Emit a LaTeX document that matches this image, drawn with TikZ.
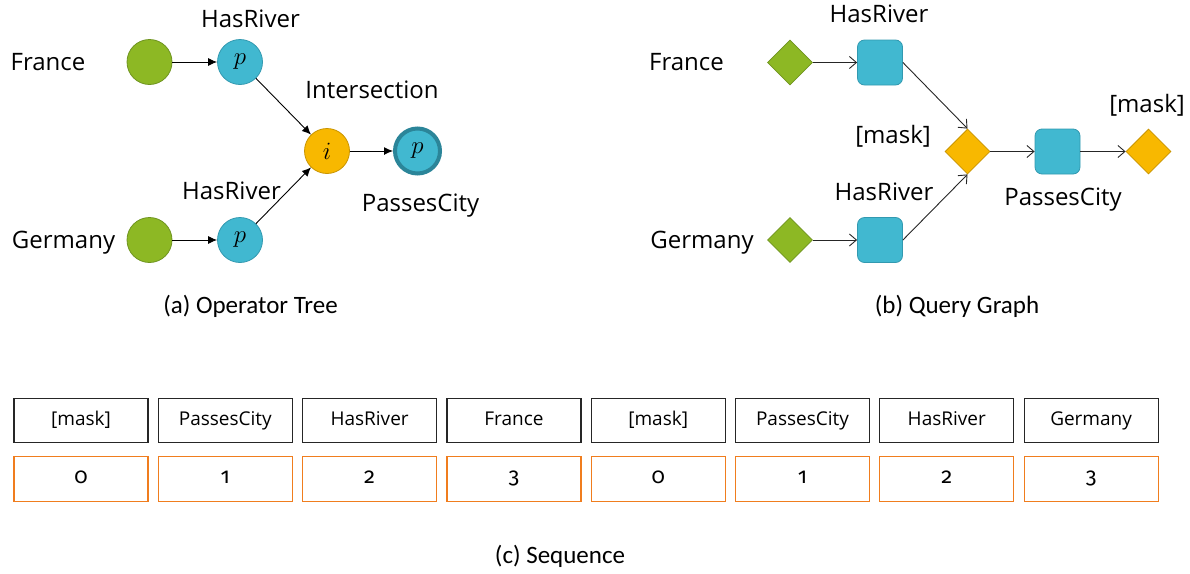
\documentclass[tikz,border=0pt]{standalone}
\usepackage{fontspec}
\setmainfont{Open Sans}
\newfontfamily\capfont{Carlito}
\newfontfamily\numfont[Numbers=OldStyle]{Fira Sans}
\usetikzlibrary{shapes.geometric,arrows.meta}

\definecolor{entgreen}{HTML}{8DB824}
\definecolor{entgreenD}{HTML}{6F9420}
\definecolor{relblue}{HTML}{41B8D0}
\definecolor{relblueD}{HTML}{3299B0}
\definecolor{opgold}{HTML}{F8B800}
\definecolor{opgoldD}{HTML}{C99400}
\definecolor{tealD}{HTML}{2B8599}
\definecolor{idxorange}{HTML}{F07D1E}

\tikzset{
  lbl/.style={font=\fontsize{24}{28}\selectfont, inner sep=0pt, anchor=base},
  caplbl/.style={font=\capfont\fontsize{25}{30}\selectfont, inner sep=0pt, anchor=base},
  ent/.style={circle, fill=entgreen, draw=entgreenD, line width=0.8pt, minimum size=45pt, inner sep=0pt},
  opsym/.style={font=\fontsize{29}{30}\selectfont},
  rel/.style={circle, fill=relblue, draw=relblueD, line width=0.8pt, minimum size=45pt, inner sep=0pt, opsym},
  opi/.style={circle, fill=opgold, draw=opgoldD, line width=0.8pt, minimum size=45pt, inner sep=0pt, opsym},
  goal/.style={circle, fill=relblue, draw=tealD, line width=4pt, minimum size=45pt, inner sep=0pt, opsym},
  opar/.style={-{Latex[length=9pt,width=8pt]}, line width=0.9pt, draw=black},
  qar/.style={-{Straight Barb[length=7pt,width=12pt]}, line width=0.9pt, draw=black!85},
  ediam/.style={diamond, fill=entgreen, draw=entgreenD, line width=0.8pt, minimum width=45pt, minimum height=45pt, inner sep=0pt},
  mdiam/.style={diamond, fill=opgold, draw=opgoldD, line width=0.8pt, minimum width=45pt, minimum height=45pt, inner sep=0pt},
  rsq/.style={rectangle, rounded corners=7pt, fill=relblue, draw=relblueD, line width=0.8pt, minimum size=45pt, inner sep=0pt},
  tokbox/.style={draw=black!85, line width=1.2pt, minimum width=134pt, minimum height=44.5pt, inner sep=0pt,
                 text height=14pt, text depth=4pt, font=\fontsize{19}{22}\selectfont},
  idxbox/.style={draw=idxorange, line width=1.2pt, minimum width=134pt, minimum height=44.5pt, inner sep=0pt,
                 text height=12pt, text depth=4pt, font=\numfont\fontsize{22}{24}\selectfont},
}

\begin{document}
\begin{tikzpicture}[x=1pt, y=-1pt]
\useasboundingbox (0,0) rectangle (1190,573);

% ---------- (a) operator tree ----------
\node[ent] (fr) at (149.5,62) {};
\node[rel] (hr1) at (240,62) {$p$};
\node[ent] (de) at (149.5,240) {};
\node[rel] (hr2) at (240,240) {$p$};
\node[opi] (inter) at (327,151) {$i$};
\node[goal] (pc) at (417.5,151) {$p$};

\node[lbl] (frlbl) at (48,70) {France};
\node[lbl] (delbl) at (63.5,248) {Germany};
\node[lbl] (hr1lbl) at (250.5,27) {HasRiver};
\node[lbl] (hr2lbl) at (231.5,199) {HasRiver};
\node[lbl] (interlbl) at (372,98) {Intersection};
\node[lbl] (pclbl) at (420.5,211) {PassesCity};

\draw[opar] (fr) -- (hr1);
\draw[opar] (de) -- (hr2);
\draw[opar] (hr1) -- (inter);
\draw[opar] (hr2) -- (inter);
\draw[opar] (inter) -- (pc);

\node[caplbl] (capa) at (250.5,313) {(a) Operator Tree};

% ---------- (b) query graph ----------
\node[ediam] (qfr) at (790,62.5) {};
\node[rsq] (qhr1) at (880,62.5) {};
\node[ediam] (qde) at (790,240) {};
\node[rsq] (qhr2) at (880,240) {};
\node[mdiam] (qm1) at (967.5,151.5) {};
\node[rsq] (qpc) at (1057.5,151.5) {};
\node[mdiam] (qm2) at (1148.5,151.5) {};

\node[lbl] (qfrlbl) at (686.5,70) {France};
\node[lbl] (qdelbl) at (702,248) {Germany};
\node[lbl] (qhr1lbl) at (879,22) {HasRiver};
\node[lbl] (qhr2lbl) at (884,200) {HasRiver};
\node[lbl] (qm1lbl) at (893,143) {[mask]};
\node[lbl] (qpclbl) at (1063,205) {PassesCity};
\node[lbl] (qm2lbl) at (1147,112) {[mask]};

\draw[qar] (qfr) -- (qhr1);
\draw[qar] (qde) -- (qhr2);
\draw[qar] (qhr1.east) -- (qm1.north);
\draw[qar] (qhr2.east) -- (qm1.south);
\draw[qar] (qm1) -- (qpc);
\draw[qar] (qpc) -- (qm2);

\node[caplbl] (capb) at (957,313) {(b) Query Graph};

% ---------- (c) sequence ----------
\foreach \tok/\idx [count=\k from 0] in {[mask]/0, PassesCity/1, HasRiver/2, France/3,
                                          [mask]/0, PassesCity/1, HasRiver/2, Germany/3} {
  \node[tokbox] (tok\k) at ({81+144.3*\k},420.5) {\tok};
  \node[idxbox] (idx\k) at ({81+144.3*\k},479) {\idx};
}

\node[caplbl] (capc) at (560,563) {(c) Sequence};
\end{tikzpicture}
\end{document}
